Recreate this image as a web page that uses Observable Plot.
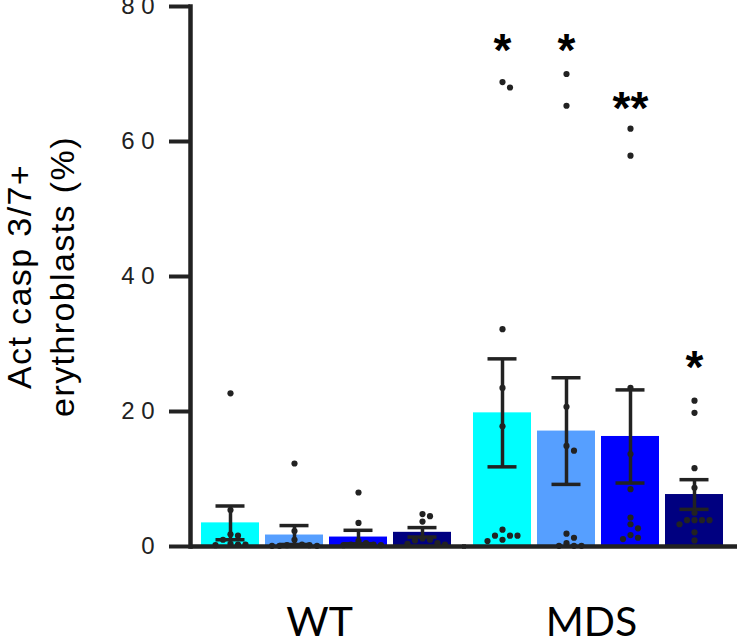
<!DOCTYPE html>
<html>
<head>
<meta charset="utf-8">
<script src="https://cdn.jsdelivr.net/npm/d3@7"></script>
<script src="https://cdn.jsdelivr.net/npm/@observablehq/plot@0.6"></script>
<style>
  body { margin: 0; background: #fff; }
  #chart svg { display: block; }
  .ylab text { letter-spacing: 1.4px; }
  .yticks text { font-size: 24px; fill: #222; }
</style>
</head>
<body>
<div id="chart"></div>
<script>
// ---- data ----
const groups = ["WT", "MDS"];
const conditions = ["1", "2", "3", "4"];
const colors = ["#00ffff", "#569fff", "#0000ff", "#000080"];

const meanWT = [3.5, 1.7, 1.4, 2.1];
const meanMDS = [19.8, 17.1, 16.3, 7.7];
const semWT = [2.5, 1.4, 1.0, 0.7];
const semMDS = [8.0, 7.9, 6.9, 2.2];

const pointsWT = [
  [22.7, 5.4, 1.8, 1.6, 1.0, 0.4, 0.3, 0.3, 0.2],
  [12.3, 2.3, 1.0, 0.3, 0.2, 0.2, 0.1, 0.1, 0.1],
  [8.0, 3.5, 0.8, 0.5, 0.3, 0.3, 0.2, 0.2],
  [4.8, 4.5, 3.7, 1.2, 1.0, 0.9, 0.5, 0.4, 0.3]
];
const pointsMDS = [
  [68.8, 68.0, 32.2, 23.5, 17.8, 2.5, 1.6, 1.6, 1.6, 1.0, 0.8],
  [70.0, 65.3, 20.7, 14.9, 14.2, 1.9, 1.3, 0.5, 0.1, 0.1, 0.1],
  [61.9, 57.9, 23.5, 13.7, 8.5, 4.3, 3.3, 2.7, 1.7, 1.1, 1.3],
  [21.6, 19.8, 11.6, 8.7, 5.0, 3.9, 3.9, 3.9, 3.9, 3.3, 2.1, 0.9]
];

const sigLabels = ["*", "*", "**", "*"];   // MDS only
const sigY = [74.5, 74.5, 66, 27.6];

const yTicks = [0, 20, 40, 60, 80];
const yTickLabels = ["0", "2 0", "4 0", "6 0", "8 0"];
const yLabel = "Act casp 3/7+\nerythroblasts (%)";

// ---- build tables ----
const W = 737, H = 641, mTop = 6, mBottom = 95, mLeft = 190, mRight = 3;
const bars = [];
groups.forEach((g, gi) => {
  const means = gi === 0 ? meanWT : meanMDS;
  const sems = gi === 0 ? semWT : semMDS;
  conditions.forEach((c, ci) => {
    bars.push({group: g, cond: c, mean: means[ci], lo: means[ci] - sems[ci], hi: means[ci] + sems[ci]});
  });
});

// simple beeswarm: assign horizontal slots so dots don't overlap
const pxPerUnit = (H - mTop - mBottom) / (yTicks[yTicks.length - 1] - yTicks[0]);
const slotGap = 7.5, minDist = 6.2;
const dots = [];
groups.forEach((g, gi) => {
  const pts = gi === 0 ? pointsWT : pointsMDS;
  conditions.forEach((c, ci) => {
    const placed = [];
    [...pts[ci]].sort((a, b) => b - a).forEach(v => {
      const order = [0, 1, -1, 2, -2, 3, -3, 4, -4];
      for (const s of order) {
        if (!placed.some(p => p.slot === s && Math.abs(p.v - v) * pxPerUnit < minDist)) {
          placed.push({v, slot: s});
          dots.push({group: g, cond: c, value: v, slot: s});
          break;
        }
      }
    });
  });
});
const slots = Array.from(new Set(dots.map(d => d.slot)));

const sig = conditions.map((c, ci) => ({group: "MDS", cond: c, y: sigY[ci], text: sigLabels[ci]}));

const ink = "#222";
const marks = [
  Plot.barY(bars, {fx: "group", x: "cond", y: "mean", fill: "cond"}),
  Plot.ruleX(bars, {fx: "group", x: "cond", y1: "lo", y2: "hi", stroke: ink, strokeWidth: 3.5}),
  Plot.tickY(bars, {fx: "group", x: "cond", y: "lo", stroke: ink, strokeWidth: 3.5, inset: 14.5}),
  Plot.tickY(bars, {fx: "group", x: "cond", y: "hi", stroke: ink, strokeWidth: 3.5, inset: 14.5}),
  ...slots.map(s => Plot.dot(dots.filter(d => d.slot === s), {
    fx: "group", x: "cond", y: "value", r: 3.1, fill: ink, stroke: "none", dx: s * slotGap
  })),
  Plot.text(sig, {fx: "group", x: "cond", y: "y", text: "text", fontSize: 46, fontWeight: "bold",
    fill: "#000", fontFamily: "Liberation Sans, Arial, sans-serif", dy: 8}),
  Plot.ruleY([0], {stroke: ink, strokeWidth: 4.5, insetRight: -4}),
  Plot.frame({anchor: "left", facetAnchor: "left", stroke: ink, strokeWidth: 4.5}),
  Plot.axisY({ticks: yTicks, tickFormat: d => yTickLabels[yTicks.indexOf(d)], tickSize: 21, tickPadding: 15,
    strokeWidth: 4, color: "#222", fontSize: 24, label: null, className: "yticks"}),
  Plot.text([yLabel], {frameAnchor: "left", facetAnchor: "left", rotate: -90, text: d => d,
    textAnchor: "middle", lineAnchor: "top", lineHeight: 1.24, dx: -189, fontSize: 34, fill: "#000",
    className: "ylab"}),
  Plot.axisFx({anchor: "bottom", tickSize: 0, tickPadding: 60, fontSize: 41, color: "#000", label: null,
    fontFamily: "Lato, Carlito, sans-serif", dx: -7})
];

const chart = Plot.plot({
  width: W, height: H,
  marginTop: mTop, marginBottom: mBottom, marginLeft: mLeft, marginRight: mRight,
  style: {fontFamily: "Liberation Sans, Arial, sans-serif", background: "#fff"},
  fx: {domain: groups, paddingInner: 0, paddingOuter: 0, axis: null},
  x: {domain: conditions, paddingInner: 0.094, paddingOuter: 0.165, axis: null},
  y: {domain: [yTicks[0], yTicks[yTicks.length - 1]]},
  color: {domain: conditions, range: colors},
  marks
});
document.getElementById("chart").appendChild(chart);
</script>
</body>
</html>
